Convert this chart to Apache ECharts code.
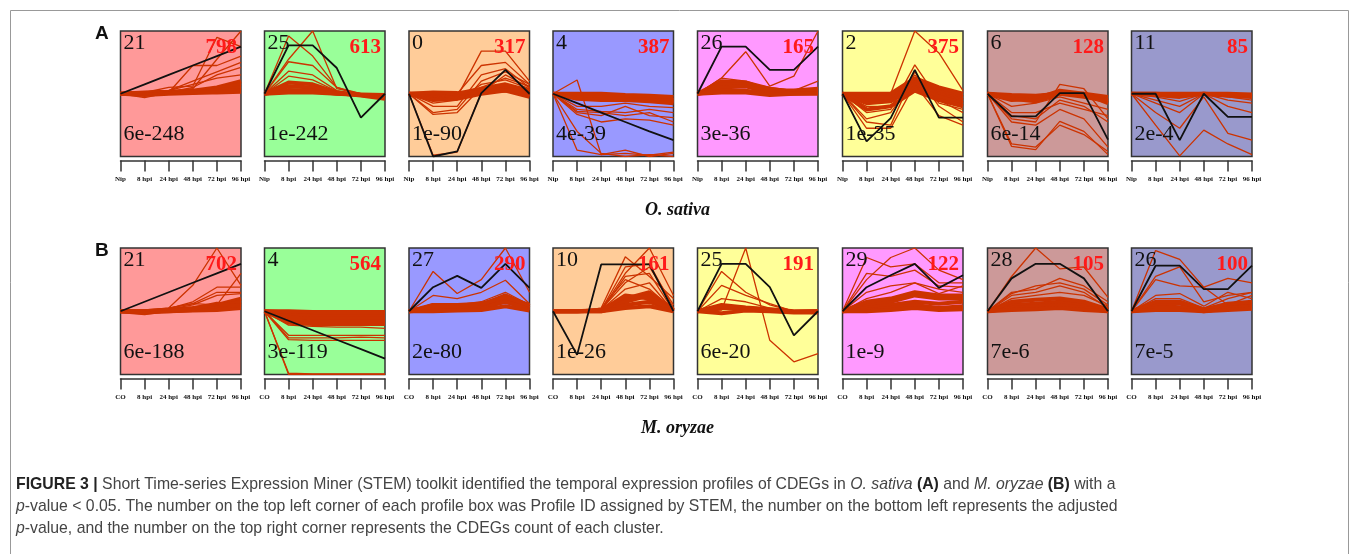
<!DOCTYPE html>
<html>
<head>
<meta charset="utf-8">
<script src="https://cdn.jsdelivr.net/npm/echarts@6/dist/echarts.min.js"></script>
<style>
  html, body { margin: 0; padding: 0; background: #fff; }
  #chart { width: 1355px; height: 554px; }
</style>
</head>
<body>
<div id="chart"></div>
<script>
// ---- time points ----
const timesSativa = ['Nip', '8 hpi', '24 hpi', '48 hpi', '72 hpi', '96 hpi'];
const timesOryzae = ['CO', '8 hpi', '24 hpi', '48 hpi', '72 hpi', '96 hpi'];

// ---- O. sativa profiles: STEM profile ID, gene count, adjusted p-value ----
const sativaIds = ['21', '25', '0', '4', '26', '2', '6', '11'];
const sativaCounts = ['798', '613', '317', '387', '165', '375', '128', '85'];
const sativaPvalues = ['6e-248', '1e-242', '1e-90', '4e-39', '3e-36', '1e-35', '6e-14', '2e-4'];

// ---- M. oryzae profiles ----
const oryzaeIds = ['21', '4', '27', '10', '25', '29', '28', '26'];
const oryzaeCounts = ['702', '564', '290', '161', '191', '122', '105', '100'];
const oryzaePvalues = ['6e-188', '3e-119', '2e-80', '1e-26', '6e-20', '1e-9', '7e-6', '7e-5'];

// ---- model profiles (black), scaled to the box: +1 top, -1 bottom ----
const sativaModel = [
  [0, 0.15, 0.30, 0.45, 0.60, 0.75],
  [0, 0.77, 0.77, 0.41, -0.38, 0.00],
  [0, -1.00, -0.92, 0.01, 0.38, 0.00],
  [0, -0.15, -0.30, -0.45, -0.60, -0.74],
  [0, 0.75, 0.75, 0.38, 0.38, 0.75],
  [0, -0.76, -0.39, 0.38, -0.38, -0.38],
  [0, -0.36, -0.36, 0.01, 0.01, -0.73],
  [0, 0.00, -0.74, 0.00, -0.37, -0.37]
];
const oryzaeModel = [
  [0, 0.15, 0.30, 0.45, 0.60, 0.75],
  [0, -0.15, -0.30, -0.45, -0.60, -0.75],
  [0, 0.38, 0.56, 0.37, 0.75, 0.37],
  [0, -0.69, 0.74, 0.74, 0.74, 0.00],
  [0, 0.75, 0.75, 0.38, -0.38, 0.00],
  [0, 0.38, 0.57, 0.75, 0.37, 0.57],
  [0, 0.52, 0.75, 0.75, 0.52, 0.00],
  [0, 0.72, 0.72, 0.35, 0.35, 0.72]
];

// ---- member genes (red): spread-out genes and the dense core of each cluster ----
const s21Spread = [
  [0, 0.02, 0.10, 0.12, 0.90, 0.75], [0, 0.01, 0.03, 0.08, 0.55, 1.00],
  [0, 0.00, 0.02, 0.45, 0.45, 0.60], [0, 0.02, 0.05, 0.20, 0.35, 0.50],
  [0, -0.06, 0.02, 0.10, 0.30, 0.42], [0, 0.03, 0.05, 0.15, 0.25, 0.30]
];
const s21Core = [
  [0, 0.02, 0.03, 0.05, 0.10, 0.20], [0, 0.01, 0.02, 0.04, 0.08, 0.15],
  [0, 0.00, 0.01, 0.02, 0.05, 0.10], [0, -0.02, 0.00, 0.01, 0.03, 0.06],
  [0, 0.01, 0.01, 0.02, 0.02, 0.03]
];
const s25Spread = [
  [0, 0.55, 1.00, 0.08, 0.00, -0.05], [0, 0.92, 0.60, 0.10, -0.02, -0.04],
  [0, 0.51, 0.45, 0.10, 0.00, -0.03], [0, 0.36, 0.30, 0.05, -0.01, -0.05],
  [0, 0.28, 0.22, 0.04, -0.02, -0.06]
];
const s25Core = [
  [0, 0.18, 0.15, 0.02, -0.02, -0.06], [0, 0.12, 0.10, 0.01, -0.03, -0.08],
  [0, 0.06, 0.05, 0.00, -0.02, -0.04], [0, 0.02, 0.02, 0.00, -0.01, -0.02]
];
const s0Spread = [
  [0, -0.98, -0.93, 0.02, 0.30, 0.10], [0, -0.10, -0.05, 0.68, 0.68, 0.20],
  [0, -0.05, 0.00, 0.45, 0.50, 0.15], [0, -0.30, -0.25, 0.20, 0.35, 0.15],
  [0, -0.33, -0.30, 0.10, 0.25, 0.12], [0, -0.20, -0.20, 0.30, 0.40, 0.10],
  [0, -0.15, -0.10, 0.15, 0.22, 0.08]
];
const s0Core = [
  [0, -0.05, -0.03, 0.05, 0.12, 0.05], [0, -0.08, -0.05, 0.02, 0.08, 0.00],
  [0, 0.00, 0.00, 0.08, 0.15, 0.05], [0, -0.10, -0.08, 0.00, 0.05, -0.05],
  [0, 0.02, 0.01, 0.03, 0.05, 0.02]
];
const s4Spread = [
  [0, 0.22, -0.97, -0.90, -1.00, -0.95], [0, -0.90, -0.97, -0.95, -0.98, -0.93],
  [0, -0.60, -0.95, -1.00, -0.97, -1.00], [0, -0.28, -0.30, -0.35, -0.30, -0.45],
  [0, -0.33, -0.45, -0.40, -0.42, -0.50], [0, -0.30, -0.35, -0.20, -0.35, -0.38],
  [0, -0.25, -0.28, -0.30, -0.25, -0.30], [0, -0.20, -0.20, -0.15, -0.20, -0.22]
];
const s4Core = [
  [0, -0.02, -0.03, -0.05, -0.08, -0.10], [0, -0.05, -0.05, -0.06, -0.10, -0.12],
  [0, 0.00, 0.00, -0.02, -0.03, -0.05], [0, -0.08, -0.10, -0.10, -0.12, -0.15]
];
const s26Spread = [
  [0, 0.25, 0.67, 0.12, 0.28, 1.00], [0, 0.25, 0.20, 0.10, 0.05, 0.20]
];
const s26Core = [
  [0, 0.20, 0.18, 0.05, 0.05, 0.08], [0, 0.15, 0.15, 0.08, 0.03, 0.05],
  [0, 0.10, 0.12, 0.02, 0.02, 0.03], [0, 0.05, 0.05, 0.00, 0.00, 0.01],
  [0, 0.02, 0.02, -0.02, 0.00, 0.00]
];
const s2Spread = [
  [0, 0.00, 0.00, 1.00, 0.65, 0.05], [0, -0.30, -0.25, 0.46, -0.10, -0.30],
  [0, -0.45, -0.50, 0.35, -0.20, -0.45], [0, -0.55, -0.55, 0.15, -0.35, -0.50],
  [0, -0.40, -0.30, 0.25, -0.15, -0.25], [0, -0.20, -0.20, 0.30, 0.00, -0.10]
];
const s2Core = [
  [0, -0.05, -0.05, 0.20, 0.05, -0.05], [0, -0.10, -0.10, 0.15, 0.00, -0.10],
  [0, -0.15, -0.12, 0.10, -0.05, -0.15], [0, 0.00, 0.00, 0.25, 0.10, 0.00],
  [0, -0.25, -0.20, 0.05, -0.10, -0.20]
];
const s6Spread = [
  [0, -0.84, -0.89, -0.44, -0.60, -0.97], [0, -0.80, -0.85, -0.50, -0.65, -0.92],
  [0, -0.45, -0.50, -0.25, -0.40, -0.85], [0, -0.40, -0.45, 0.15, 0.08, -0.40],
  [0, -0.35, -0.40, -0.10, -0.20, -0.45], [0, -0.30, -0.30, -0.15, -0.25, -0.35],
  [0, -0.20, -0.15, -0.05, -0.15, -0.25]
];
const s6Core = [
  [0, -0.02, -0.03, 0.00, 0.00, -0.05], [0, -0.05, -0.05, 0.02, -0.02, -0.10],
  [0, -0.10, -0.08, 0.05, 0.00, -0.15], [0, -0.08, -0.12, 0.00, -0.05, -0.12]
];
const s11Spread = [
  [0, -0.50, -0.99, -0.58, -0.80, -0.97], [0, -0.30, -0.55, -0.05, -0.63, -0.74],
  [0, -0.15, -0.30, 0.00, -0.20, -0.30], [0, -0.10, -0.20, 0.00, -0.10, -0.15],
  [0, -0.05, -0.12, 0.00, -0.05, -0.10]
];
const s11Core = [
  [0, 0.00, -0.02, 0.00, -0.02, -0.03], [0, -0.02, -0.05, 0.00, -0.03, -0.05],
  [0, 0.00, 0.00, 0.00, 0.00, -0.01]
];

const o21Spread = [
  [0, 0.00, 0.05, 0.41, 1.00, 0.41], [0, 0.02, 0.05, 0.12, 0.10, 0.60],
  [0, 0.01, 0.04, 0.15, 0.38, 0.38], [0, 0.02, 0.05, 0.12, 0.30, 0.30],
  [0, 0.00, 0.03, 0.10, 0.25, 0.28]
];
const o21Core = [
  [0, -0.03, 0.02, 0.05, 0.10, 0.20], [0, 0.00, 0.01, 0.03, 0.07, 0.15],
  [0, -0.02, 0.00, 0.02, 0.05, 0.10], [0, 0.00, 0.00, 0.01, 0.02, 0.05],
  [0, -0.01, 0.02, 0.04, 0.12, 0.08]
];
const o4Spread = [
  [0, -1.00, -1.00, -1.00, -1.00, -1.00], [0, -0.98, -0.99, -0.99, -0.99, -0.99],
  [0, -0.38, -0.38, -0.38, -0.38, -0.38], [0, -0.45, -0.46, -0.46, -0.46, -0.46],
  [0, -0.42, -0.42, -0.42, -0.41, -0.42], [0, -0.22, -0.24, -0.25, -0.25, -0.27]
];
const o4Core = [
  [0, -0.02, -0.05, -0.05, -0.05, -0.05], [0, -0.05, -0.08, -0.08, -0.08, -0.08],
  [0, -0.10, -0.12, -0.12, -0.12, -0.12], [0, -0.15, -0.16, -0.16, -0.16, -0.16],
  [0, -0.18, -0.20, -0.20, -0.20, -0.20], [0, 0.00, -0.01, -0.01, -0.01, -0.01]
];
const o27Spread = [
  [0, 0.63, 0.28, 0.50, 1.00, 0.30], [0, 0.25, 0.20, 0.30, 0.49, 0.12],
  [0, 0.12, 0.10, 0.15, 0.30, 0.10]
];
const o27Core = [
  [0, 0.05, 0.05, 0.08, 0.20, 0.05], [0, 0.02, 0.03, 0.05, 0.15, 0.03],
  [0, 0.08, 0.07, 0.10, 0.25, 0.08], [0, 0.00, 0.01, 0.02, 0.08, 0.01],
  [0, 0.10, 0.10, 0.12, 0.22, 0.10]
];
const o10Spread = [
  [0, 0.00, 0.02, 0.60, 1.00, 0.25], [0, 0.00, 0.05, 0.86, 0.55, 0.20],
  [0, 0.00, 0.02, 0.70, 0.75, 0.05], [0, 0.00, 0.00, 0.55, 0.60, 0.00],
  [0, 0.00, 0.03, 0.45, 0.70, 0.10], [0, 0.00, 0.05, 0.50, 0.35, 0.02],
  [0, 0.00, 0.02, 0.35, 0.45, 0.00]
];
const o10Core = [
  [0, 0.00, 0.01, 0.20, 0.30, 0.02], [0, 0.00, 0.02, 0.15, 0.25, 0.00],
  [0, 0.00, 0.00, 0.10, 0.15, 0.00], [0, 0.00, 0.01, 0.25, 0.20, 0.01],
  [0, 0.00, 0.00, 0.05, 0.08, 0.00]
];
const o25Spread = [
  [0, 0.02, 1.00, -0.46, -0.80, -0.67], [0, 0.63, 0.30, 0.10, 0.00, 0.00],
  [0, 0.41, 0.25, 0.12, 0.00, 0.00], [0, 0.20, 0.15, 0.05, 0.00, 0.00]
];
const o25Core = [
  [0, 0.10, 0.06, 0.03, 0.00, 0.00], [0, 0.05, 0.03, 0.01, -0.01, 0.00],
  [0, -0.03, 0.01, 0.00, -0.02, -0.02], [0, 0.08, 0.05, 0.02, -0.01, 0.00]
];
const o29Spread = [
  [0, 0.50, 0.85, 1.00, 0.65, 0.50], [0, 0.85, 0.70, 0.75, 0.45, 0.45],
  [0, 0.60, 0.55, 0.65, 0.40, 0.38], [0, 0.30, 0.40, 0.45, 0.35, 0.30],
  [0, 0.20, 0.30, 0.45, 0.28, 0.40]
];
const o29Core = [
  [0, 0.10, 0.15, 0.25, 0.20, 0.20], [0, 0.05, 0.10, 0.15, 0.12, 0.15],
  [0, 0.15, 0.20, 0.30, 0.25, 0.25], [0, 0.02, 0.05, 0.10, 0.05, 0.08],
  [0, 0.00, 0.02, 0.05, 0.02, 0.03]
];
const o28Spread = [
  [0, 0.55, 1.00, 0.67, 0.70, 0.22], [0, 0.30, 0.35, 0.52, 0.40, 0.15],
  [0, 0.28, 0.40, 0.45, 0.35, 0.10], [0, 0.25, 0.30, 0.40, 0.30, 0.05],
  [0, 0.20, 0.25, 0.30, 0.25, 0.08]
];
const o28Core = [
  [0, 0.10, 0.12, 0.15, 0.10, 0.02], [0, 0.05, 0.08, 0.10, 0.05, 0.00],
  [0, 0.15, 0.18, 0.20, 0.15, 0.03], [0, 0.02, 0.03, 0.05, 0.02, 0.00]
];
const o26Spread = [
  [0, 0.96, 0.82, 0.38, 0.10, 0.25], [0, 0.55, 0.70, 0.15, 0.25, 0.30],
  [0, 0.50, 0.40, 0.38, 0.52, 0.45], [0, 0.25, 0.28, 0.08, 0.30, 0.20],
  [0, 0.20, 0.20, 0.05, 0.20, 0.30]
];
const o26Core = [
  [0, 0.10, 0.12, 0.02, 0.10, 0.12], [0, 0.05, 0.06, 0.00, 0.05, 0.08],
  [0, 0.15, 0.15, 0.03, 0.12, 0.15], [0, 0.02, 0.02, 0.00, 0.02, 0.04]
];

const sativaSpread = [s21Spread, s25Spread, s0Spread, s4Spread, s26Spread, s2Spread, s6Spread, s11Spread];
const sativaCore = [s21Core, s25Core, s0Core, s4Core, s26Core, s2Core, s6Core, s11Core];
const oryzaeSpread = [o21Spread, o4Spread, o27Spread, o10Spread, o25Spread, o29Spread, o28Spread, o26Spread];
const oryzaeCore = [o21Core, o4Core, o27Core, o10Core, o25Core, o29Core, o28Core, o26Core];

// ---- box colours (STEM's cluster colouring) ----
const sativaFill = ['#ff9999', '#99ff99', '#ffcc99', '#9999ff', '#ff99ff', '#ffff99', '#cc9999', '#9999cc'];
const oryzaeFill = ['#ff9999', '#99ff99', '#9999ff', '#ffcc99', '#ffff99', '#ff99ff', '#cc9999', '#9999cc'];

// ---- layout ----
const boxLefts = [120.5, 264.5, 409, 553, 697.5, 842.5, 987.5, 1131.5];
const boxWidth = 120.5;
const rowTops = [31, 248];
const rowHeights = [125.5, 126.5];
const geneColor = '#cc3300';

const rows = [
  { times: timesSativa, ids: sativaIds, counts: sativaCounts, pvals: sativaPvalues,
    model: sativaModel, spread: sativaSpread, core: sativaCore, fill: sativaFill },
  { times: timesOryzae, ids: oryzaeIds, counts: oryzaeCounts, pvals: oryzaePvalues,
    model: oryzaeModel, spread: oryzaeSpread, core: oryzaeCore, fill: oryzaeFill }
];

const grids = [], xAxes = [], yAxes = [], series = [], graphics = [];
const serifFont = '"Liberation Serif", "DejaVu Serif", serif';

rows.forEach((row, r) => {
  const top = rowTops[r], h = rowHeights[r];
  for (let p = 0; p < 8; p++) {
    const idx = grids.length;
    const left = boxLefts[p];
    grids.push({
      left: left, top: top, width: boxWidth, height: h,
      show: true, backgroundColor: row.fill[p],
      borderColor: '#333', borderWidth: 1.5, containLabel: false
    });
    xAxes.push({
      gridIndex: idx, type: 'category', data: row.times, boundaryGap: false,
      position: 'bottom', offset: 4,
      axisLine: { show: true, onZero: false, lineStyle: { color: '#333', width: 1.5 } },
      axisTick: { show: true, inside: false, length: 11, lineStyle: { color: '#333', width: 1.5 } },
      axisLabel: { show: true, interval: 0, margin: 15, fontSize: 7, fontWeight: 'bold',
                   fontFamily: serifFont, color: '#111' },
      splitLine: { show: false }
    });
    yAxes.push({
      gridIndex: idx, type: 'value', min: -1, max: 1, show: false,
      splitLine: { show: false }
    });
    row.core[p].forEach(vals => series.push({
      type: 'line', xAxisIndex: idx, yAxisIndex: idx, data: vals, symbol: 'none',
      silent: true, animation: false, z: 2,
      lineStyle: { color: geneColor, width: 4 }
    }));
    row.spread[p].forEach(vals => series.push({
      type: 'line', xAxisIndex: idx, yAxisIndex: idx, data: vals, symbol: 'none',
      silent: true, animation: false, z: 3,
      lineStyle: { color: geneColor, width: 1.3 }
    }));
    series.push({
      type: 'line', xAxisIndex: idx, yAxisIndex: idx, data: row.model[p], symbol: 'none',
      silent: true, animation: false, z: 4,
      lineStyle: { color: '#111', width: 1.8 }
    });

    // profile ID (top left), gene count (top right), p-value (bottom left)
    graphics.push({
      type: 'text', left: left + 3, top: top + 1, z: 10, silent: true,
      style: { text: row.ids[p], font: '22px ' + serifFont, fill: '#111' }
    });
    graphics.push({
      type: 'text', right: 1355 - (left + boxWidth - 4), top: top + 6, z: 10, silent: true,
      style: { text: row.counts[p], font: 'bold 21px ' + serifFont, fill: '#ff1a1a' }
    });
    graphics.push({
      type: 'text', left: left + 3, top: top + h - 33, z: 10, silent: true,
      style: { text: row.pvals[p], font: '22px ' + serifFont, fill: '#111' }
    });
  }
});

// panel letters and species names
graphics.push(
  { type: 'text', left: 95, top: 24, style: { text: 'A', font: 'bold 19px "Liberation Sans", Arial, sans-serif', fill: '#111' } },
  { type: 'text', left: 95, top: 241, style: { text: 'B', font: 'bold 19px "Liberation Sans", Arial, sans-serif', fill: '#111' } },
  { type: 'text', left: 'center', top: 201, style: { text: 'O. sativa', font: 'italic bold 18px ' + serifFont, fill: '#111' } },
  { type: 'text', left: 'center', top: 419, style: { text: 'M. oryzae', font: 'italic bold 18px ' + serifFont, fill: '#111' } }
);

// figure frame
graphics.push({
  type: 'rect', left: 8, top: 8, silent: true, z: -1,
  shape: { width: 1338, height: 560 },
  style: { fill: 'none', stroke: '#999', lineWidth: 1 }
});

// caption
const capFont = '"Liberation Sans", Arial, sans-serif';
const capRich = {
  b: { font: 'bold 17px ' + capFont, fill: '#222' },
  i: { font: 'italic 17px ' + capFont, fill: '#444' }
};
const captionLines = [
  '{b|FIGURE 3 |} Short Time-series Expression Miner (STEM) toolkit identified the temporal expression profiles of CDEGs in {i|O. sativa} {b|(A)} and {i|M. oryzae} {b|(B)} with a',
  '{i|p}-value < 0.05. The number on the top left corner of each profile box was Profile ID assigned by STEM, the number on the bottom left represents the adjusted',
  '{i|p}-value, and the number on the top right corner represents the CDEGs count of each cluster.'
];
captionLines.forEach((line, k) => graphics.push({
  type: 'text', x: 16, y: 476 + k * 22, scaleX: 0.93, silent: true,
  style: { text: line, font: '17px ' + capFont, fill: '#444', rich: capRich, verticalAlign: 'top' }
}));

const chart = echarts.init(document.getElementById('chart'), null, { renderer: 'canvas' });
chart.setOption({
  animation: false,
  backgroundColor: '#fff',
  grid: grids,
  xAxis: xAxes,
  yAxis: yAxes,
  series: series,
  graphic: graphics
});
</script>
</body>
</html>
